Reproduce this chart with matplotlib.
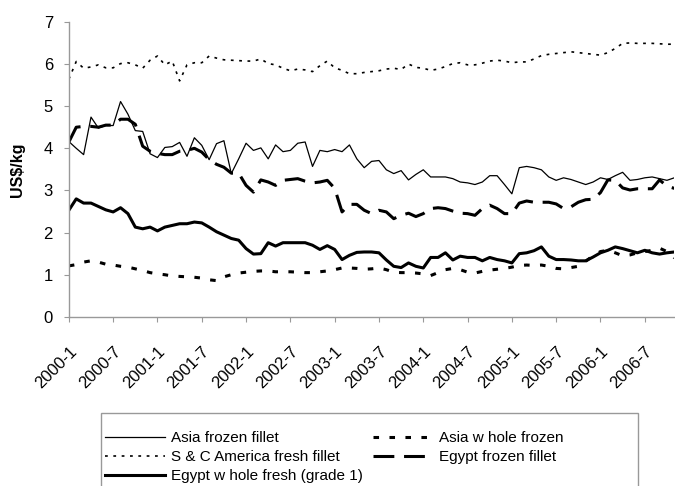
import matplotlib.pyplot as plt
from matplotlib.patches import Rectangle
import numpy as np

plt.rcParams['font.family'] = ['Liberation Sans', 'DejaVu Sans']
plt.rcParams['lines.scale_dashes'] = False

# monthly prices, 2000-1 .. 2006-11 (US$/kg)
months = [f"{y}-{m}" for y in range(2000, 2007) for m in range(1, 13)][:83]

asia_frozen_fillet = [
    4.16, 4.00, 3.85, 4.74, 4.48, 4.54, 4.54, 5.11, 4.81, 4.42, 4.40, 3.87,
    3.78, 4.02, 4.04, 4.14, 3.81, 4.25, 4.07, 3.73, 4.11, 4.18, 3.40, 3.75,
    4.12, 3.95, 4.01, 3.75, 4.08, 3.92, 3.95, 4.12, 4.15, 3.57, 3.95, 3.92,
    3.97, 3.92, 4.08, 3.75, 3.54, 3.69, 3.71, 3.49, 3.40, 3.47, 3.25, 3.38,
    3.49, 3.32, 3.32, 3.32, 3.28, 3.20, 3.18, 3.14, 3.20, 3.35, 3.35, 3.14,
    2.92, 3.54, 3.57, 3.54, 3.49, 3.32, 3.24, 3.30, 3.26, 3.20, 3.14, 3.20,
    3.30, 3.26, 3.35, 3.43, 3.24, 3.26, 3.30, 3.32, 3.28, 3.24, 3.30]

asia_whole_frozen = [
    1.21, 1.24, 1.30, 1.33, 1.30, 1.25, 1.23, 1.20, 1.18, 1.14, 1.10, 1.05,
    1.02, 1.00, 0.97, 0.96, 0.95, 0.94, 0.92, 0.88, 0.86, 0.95, 1.00, 1.04,
    1.06, 1.08, 1.09, 1.09, 1.07, 1.07, 1.07, 1.06, 1.05, 1.05, 1.07, 1.09,
    1.12, 1.16, 1.16, 1.15, 1.13, 1.14, 1.16, 1.12, 1.06, 1.05, 1.05, 1.04,
    1.02, 0.98, 1.05, 1.12, 1.15, 1.12, 1.06, 1.04, 1.08, 1.11, 1.13, 1.15,
    1.18, 1.22, 1.23, 1.22, 1.23, 1.20, 1.15, 1.14, 1.17, 1.20, 1.32, 1.45,
    1.55, 1.58, 1.52, 1.45, 1.47, 1.52, 1.55, 1.58, 1.63, 1.55, 1.40]

sc_america_fresh_fillet = [
    5.64, 6.06, 5.90, 5.93, 5.98, 5.91, 5.91, 6.01, 6.03, 5.98, 5.90, 6.09,
    6.19, 5.98, 6.07, 5.60, 5.98, 6.03, 6.03, 6.19, 6.14, 6.10, 6.09, 6.08,
    6.07, 6.07, 6.12, 6.01, 5.98, 5.90, 5.84, 5.88, 5.86, 5.82, 5.96, 6.07,
    5.91, 5.85, 5.77, 5.77, 5.80, 5.82, 5.84, 5.88, 5.90, 5.87, 6.00, 5.92,
    5.90, 5.85, 5.88, 5.94, 6.01, 6.03, 5.98, 5.98, 6.02, 6.07, 6.09, 6.07,
    6.03, 6.05, 6.05, 6.12, 6.20, 6.23, 6.25, 6.27, 6.29, 6.27, 6.25, 6.23,
    6.21, 6.27, 6.37, 6.49, 6.50, 6.49, 6.49, 6.49, 6.48, 6.47, 6.47]

egypt_frozen_fillet = [
    4.15, 4.50, 4.52, 4.52, 4.50, 4.55, 4.55, 4.69, 4.69, 4.57, 4.05, 3.93,
    3.88, 3.85, 3.85, 3.93, 3.95, 4.00, 3.91, 3.73, 3.62, 3.55, 3.41, 3.41,
    3.12, 2.96, 3.25, 3.20, 3.12, 3.24, 3.26, 3.28, 3.22, 3.18, 3.20, 3.24,
    3.05, 2.49, 2.67, 2.67, 2.53, 2.45, 2.53, 2.49, 2.33, 2.41, 2.46, 2.38,
    2.45, 2.57, 2.59, 2.57, 2.51, 2.46, 2.45, 2.41, 2.57, 2.65, 2.57, 2.45,
    2.45, 2.70, 2.75, 2.72, 2.72, 2.72, 2.68, 2.57, 2.61, 2.72, 2.78, 2.79,
    2.95, 3.25, 3.24, 3.06, 3.01, 3.04, 3.04, 3.04, 3.25, 3.10, 3.05]

egypt_whole_fresh = [
    2.53, 2.80, 2.70, 2.70, 2.62, 2.54, 2.49, 2.59, 2.45, 2.13, 2.09, 2.13,
    2.04, 2.13, 2.17, 2.21, 2.21, 2.25, 2.23, 2.13, 2.02, 1.94, 1.86, 1.82,
    1.62, 1.49, 1.50, 1.76, 1.68, 1.76, 1.76, 1.76, 1.76, 1.70, 1.60, 1.69,
    1.60, 1.36, 1.46, 1.53, 1.54, 1.54, 1.52, 1.35, 1.20, 1.17, 1.28, 1.20,
    1.16, 1.41, 1.41, 1.52, 1.35, 1.44, 1.41, 1.41, 1.33, 1.41, 1.36, 1.33,
    1.28, 1.50, 1.52, 1.57, 1.66, 1.44, 1.36, 1.36, 1.35, 1.33, 1.33, 1.42,
    1.52, 1.58, 1.66, 1.62, 1.57, 1.52, 1.58, 1.52, 1.49, 1.52, 1.54]

x = np.arange(len(months))

fig = plt.figure(figsize=(6.75, 4.86), dpi=100)
ax = fig.add_axes([0.102, 0.348, 0.897, 0.607])

l1, = ax.plot(x, asia_frozen_fillet, color='black', lw=0.9,
              label='Asia frozen fillet')
l2, = ax.plot(x, asia_whole_frozen, color='black', lw=2.2,
              dashes=(4, 7.5), label='Asia w hole frozen')
l3, = ax.plot(x, sc_america_fresh_fillet, color='black', lw=1.2,
              dashes=(2, 4), label='S & C America fresh fillet')
l4, = ax.plot(x, egypt_frozen_fillet, color='black', lw=2.2,
              dashes=(15, 7), label='Egypt frozen fillet')
l5, = ax.plot(x, egypt_whole_fresh, color='black', lw=2.2,
              label='Egypt w hole fresh (grade 1)')

ax.set_xlim(0, len(months) - 1)
ax.set_ylim(0, 7)
ax.set_yticks(range(0, 8))
ax.set_xticks(x[::6])
ax.set_xticklabels(months[::6], rotation=45, ha='right', va='top',
                   rotation_mode='anchor')

for s in ['top', 'right']:
    ax.spines[s].set_visible(False)
for s in ['left', 'bottom']:
    ax.spines[s].set_color('#999999')
    ax.spines[s].set_linewidth(1.0)
ax.tick_params(axis='both', colors='#999999', labelcolor='black',
               labelsize=12, length=3.5, direction='out')
ax.tick_params(axis='x', pad=16)
ax.tick_params(axis='y', pad=8)

ax.set_ylabel('US$/kg', fontsize=11.5, fontweight='bold')
ax.yaxis.set_label_coords(-0.073, 0.5)

# legend box (runs off the bottom of the picture)
fig.patches.append(Rectangle((101 / 675, -0.05), 537 / 675, 0.05 + 73 / 486,
                             transform=fig.transFigure, fill=False,
                             edgecolor='#999999', lw=1.0))
leg = fig.legend(handles=[l1, l3, l5, l2, l4], loc='upper left',
                 bbox_to_anchor=(105 / 675, 1 - 431 / 486), ncol=2,
                 fontsize=11, handlelength=3.9, handletextpad=0.4,
                 columnspacing=0.7, labelspacing=0.33, borderpad=0,
                 borderaxespad=0, frameon=False)

fig.savefig('out.png', dpi=100)
